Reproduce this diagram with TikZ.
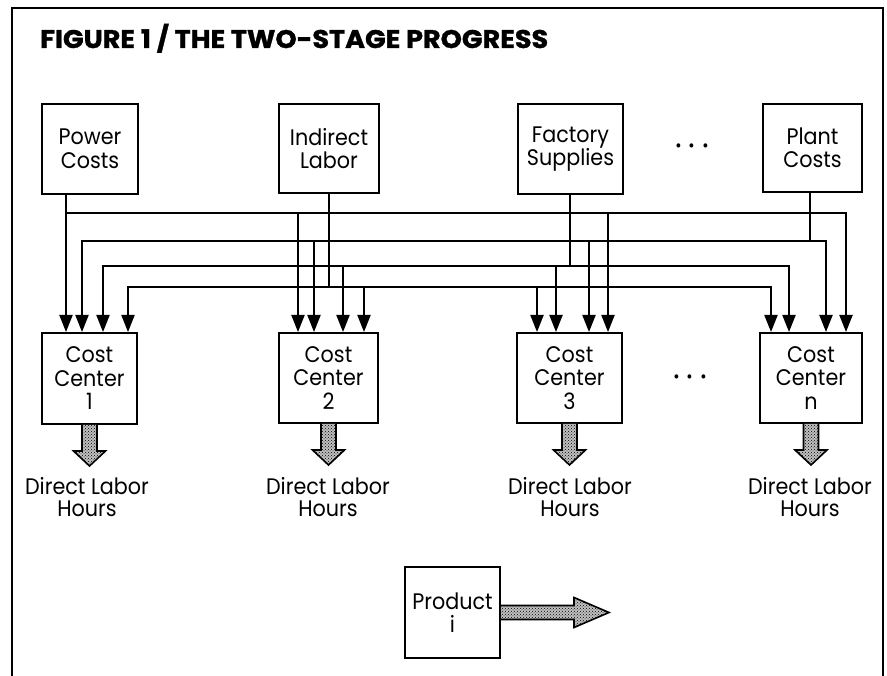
\documentclass[tikz,border=0pt]{standalone}
\usepackage{graphicx}
\usepackage{fontspec}
\setmainfont{Poppins}[FakeStretch=0.92]
\newfontfamily\titlefont{Poppins}[BoldFeatures={FakeBold=1.2}]
\usetikzlibrary{arrows.meta,calc,patterns}
\begin{document}
\begin{tikzpicture}[x=1pt,y=-1pt,
  box/.style={draw,line width=2pt,inner sep=0pt,align=center,font=\fontsize{22.5}{23.5}\selectfont},
  conn/.style={line width=2.1pt},
  arr/.style={conn,-{Triangle[width=13pt,length=17pt]}},
  fat/.style={draw,line width=1.6pt,line join=miter,preaction={fill=gray!50},pattern=crosshatch dots,pattern color=black},
  lbl/.style={align=center,inner sep=0pt,font=\fontsize{22.5}{22}\selectfont},
  dotlbl/.style={inner sep=0pt,font=\fontsize{34}{34}\selectfont}]
\useasboundingbox (0,0) rectangle (887,676);
% frame
\draw[line width=2.2pt] (12,676) -- (12,8) -- (883,8) -- (883,676);
% title
\node[anchor=base west,inner sep=0pt] (title) at (40,48)
  {\resizebox{508pt}{\height}{\titlefont\fontsize{25.5}{26}\selectfont\bfseries FIGURE 1 / THE TWO-STAGE PROGRESS}};
% sources
\node[box,minimum width=96pt,minimum height=90pt] (pc) at (90,149) {Power\\Costs};
\node[box,minimum width=100pt,minimum height=89pt] (il) at (329,148.5) {Indirect\\Labor};
\node[box,minimum width=105pt,minimum height=90pt] (fs) at (570.5,149) {Factory\\Supplies};
\node[box,minimum width=99pt,minimum height=88pt] (plc) at (812.5,148) {Plant\\Costs};
\node[dotlbl] (dots1) at (692,151) {·\hspace{7pt}·\hspace{7pt}·};
% cost centers
\node[box,minimum width=95pt,minimum height=91pt] (cc1) at (89.5,378.5) {Cost\\Center\\1};
\node[box,minimum width=99pt,minimum height=90pt] (cc2) at (328.5,378) {Cost\\Center\\2};
\node[box,minimum width=105pt,minimum height=90pt] (cc3) at (569.5,378) {Cost\\Center\\3};
\node[box,minimum width=102pt,minimum height=90pt] (ccn) at (811,378) {Cost\\Center\\n};
\node[dotlbl] (dots2) at (690,382) {·\hspace{7pt}·\hspace{7pt}·};
% bus 1: power costs
\draw[arr] (66,0 |- pc.south) -- (66,0 |- cc1.north);
\foreach \x/\n in {298/cc2,608/cc3,846/ccn}
  \draw[arr] (66,213) -| (\x,0 |- \n.north);
% bus 2: plant costs
\draw[conn] (810,0 |- plc.south) -- (810,241);
\foreach \x/\n in {82/cc1,314/cc2,589/cc3,826/ccn}
  \draw[arr] (810,241) -| (\x,0 |- \n.north);
% bus 3: factory supplies
\draw[conn] (570,0 |- fs.south) -- (570,266);
\foreach \x/\n in {103/cc1,343/cc2,556/cc3,789/ccn}
  \draw[arr] (570,266) -| (\x,0 |- \n.north);
% bus 4: indirect labor
\draw[conn] (329,0 |- il.south) -- (329,287);
\foreach \x/\n in {128/cc1,364/cc2,537/cc3,771/ccn}
  \draw[arr] (329,287) -| (\x,0 |- \n.north);
% fat arrows down
\foreach \n in {cc1,cc2,cc3,ccn}
  \draw[fat] ([xshift=-7.5pt]\n.south) -- ++(0,26) -- ++(-8.5,0) -- ++(16,15)
     -- ++(16,-15) -- ++(-8.5,0) -- ++(0,-26);
% labels
\node[lbl] (d1) at (87,497) {Direct Labor\\Hours};
\node[lbl] (d2) at (328,497) {Direct Labor\\Hours};
\node[lbl] (d3) at (570,497) {Direct Labor\\Hours};
\node[lbl] (dn) at (810,497) {Direct Labor\\Hours};
% product
\node[box,minimum width=95pt,minimum height=91pt] (prod) at (452.5,612.5) {Product\\i};
\draw[fat] ([yshift=7pt]prod.east) -- ++(73,0) -- ++(0,-8) -- ++(35,15)
   -- ++(-35,15) -- ++(0,-8) -- ++(-73,0);
\end{tikzpicture}
\end{document}
